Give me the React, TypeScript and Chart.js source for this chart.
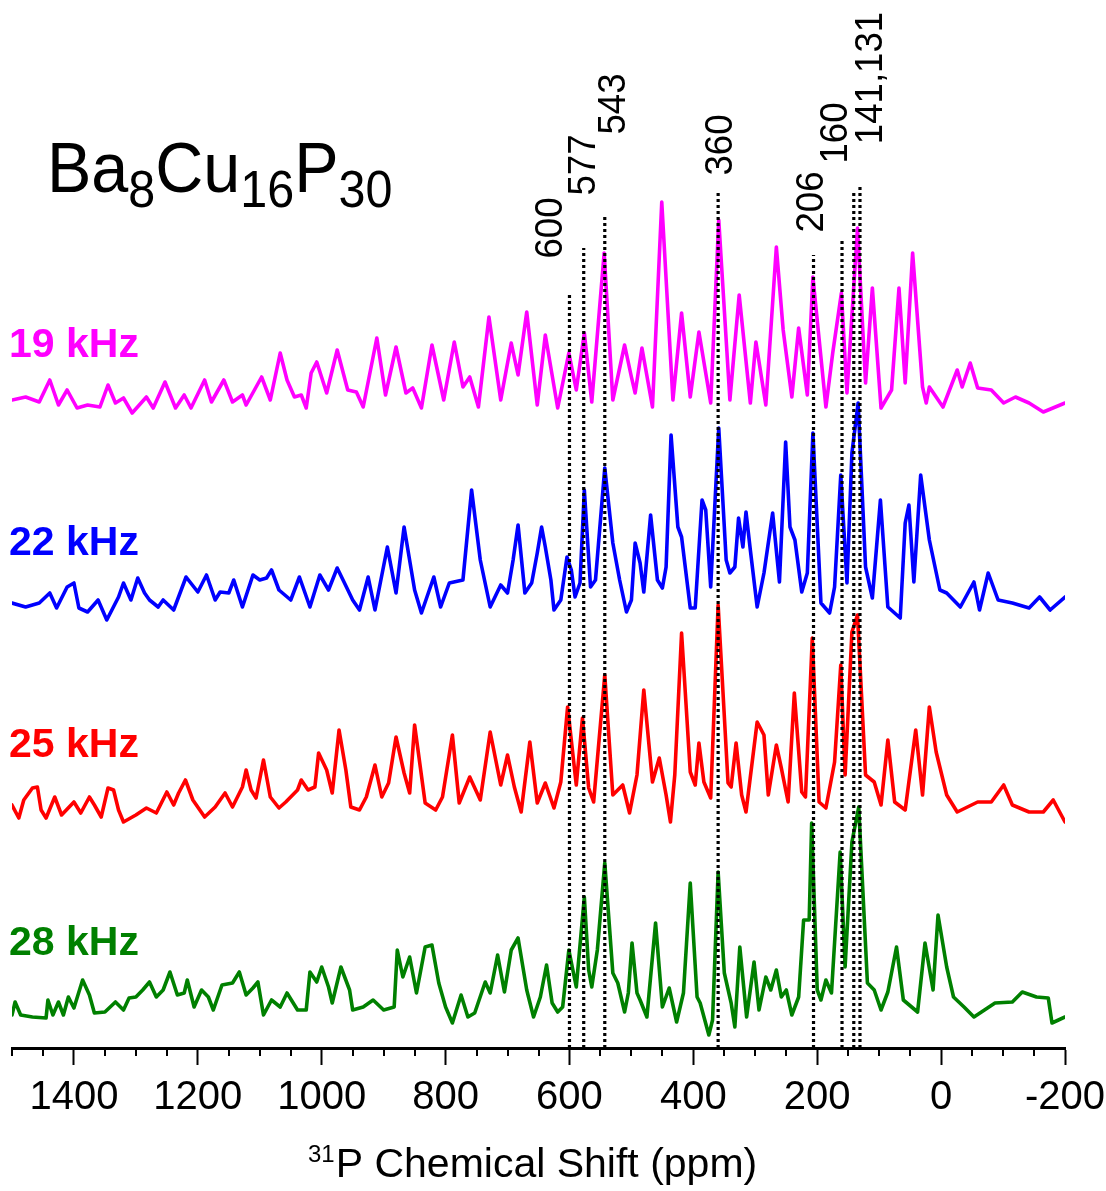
import React, { useEffect, useRef } from 'react';
import { Chart, registerables } from 'chart.js';

Chart.register(...registerables);

const FONT = '"Liberation Sans", Arial, Helvetica, sans-serif';

// ---- axis ----
const X_MIN = -200;
const X_MAX = 1500;
const X_TICKS = [1400, 1200, 1000, 800, 600, 400, 200, 0, -200];
const X_MINOR_TICKS = [1500, 1450, 1350, 1300, 1250, 1150, 1100, 1050, 950, 900, 850, 750, 700, 650, 550, 500, 450, 350, 300, 250, 150, 100, 50, -50, -100, -150];
const Y_MAX = 1048;

// ---- series ----
const SERIES_LABELS = ['19 kHz', '22 kHz', '25 kHz', '28 kHz'];
const SERIES_COLORS = ['#FF00FF', '#0000FF', '#FF0000', '#008000'];
const SERIES_OFFSETS = [643, 443, 238, 33];

const SPEC_19_PPM = [1500, 1478, 1456, 1439, 1425, 1411, 1395, 1378, 1358, 1345, 1333, 1320, 1306, 1283, 1272, 1253, 1236, 1222, 1211, 1189, 1178, 1158, 1144, 1128, 1122, 1097, 1083, 1067, 1056, 1044, 1033, 1025, 1017, 1008, 992, 975, 958, 944, 933, 911, 897, 880, 864, 853, 839, 822, 803, 786, 772, 761, 747, 730, 711, 694, 683, 669, 652, 639, 619, 601, 589, 576, 564, 544, 530, 511, 500, 494, 483, 466, 451, 433, 419, 405, 391, 372, 359, 341, 326, 308, 299, 283, 266, 255, 241, 230, 216, 207, 186, 175, 161, 152, 135, 122, 111, 97, 80, 68, 58, 46, 30, 24, 19, -3, -26, -34, -47, -59, -81, -101, -120, -142, -165, -200];
const SPEC_19_INT = [5, 8, 3, 25, 0, 15, -3, 0, -2, 20, 2, 7, -8, 8, -3, 23, -3, 10, -3, 25, 3, 25, 3, 10, 0, 28, 5, 52, 25, 8, 10, -3, 32, 43, 12, 55, 15, 13, -2, 67, 10, 58, 12, 17, -3, 60, 5, 63, 18, 28, -2, 88, 5, 62, 30, 93, 0, 70, -3, 52, 15, 72, 3, 152, 5, 60, 28, 12, 57, -2, 203, 5, 92, 8, 73, 2, 185, 5, 110, 2, 63, 0, 158, 75, 8, 77, 10, 128, -2, 52, 112, 12, 177, 22, 117, -3, 15, 117, 22, 152, 18, 2, 18, -2, 35, 18, 42, 17, 15, 2, 8, 2, -7, 2];

const SPEC_22_PPM = [1500, 1478, 1456, 1439, 1428, 1411, 1400, 1392, 1378, 1361, 1347, 1328, 1320, 1308, 1297, 1286, 1278, 1264, 1256, 1239, 1219, 1200, 1186, 1172, 1164, 1150, 1142, 1128, 1111, 1100, 1089, 1081, 1069, 1050, 1036, 1019, 1003, 989, 975, 964, 950, 939, 925, 914, 894, 880, 867, 850, 839, 819, 808, 794, 772, 758, 744, 728, 711, 700, 691, 683, 672, 661, 652, 645, 639, 630, 625, 614, 604, 597, 591, 583, 576, 566, 558, 543, 530, 519, 508, 500, 494, 486, 480, 469, 458, 450, 444, 436, 425, 419, 405, 397, 386, 380, 372, 359, 347, 341, 333, 327, 320, 315, 308, 297, 286, 272, 261, 251, 244, 236, 225, 216, 207, 194, 180, 172, 162, 152, 144, 134, 122, 111, 98, 86, 66, 58, 52, 44, 33, 19, 2, -9, -31, -53, -62, -76, -92, -115, -142, -159, -176, -200];
const SPEC_22_INT = [2, -2, 2, 12, -3, 18, 22, -3, -7, 5, -15, 8, 22, 5, 27, 12, 5, -2, 5, -5, 28, 13, 30, 5, 13, 12, 25, -2, 30, 25, 27, 35, 15, 5, 28, -2, 30, 15, 37, 23, 5, -5, 28, -5, 58, 12, 78, 15, -8, 28, -2, 22, 25, 115, 45, -2, 20, 12, 45, 80, 12, 22, 52, 78, 58, 25, -5, 5, 48, 35, 8, 22, 115, 18, 25, 137, 62, 25, -7, 5, 62, 42, 13, 90, 25, 17, 38, 170, 78, 68, -3, -3, 105, 95, 18, 177, 45, 32, 38, 87, 58, 93, 55, -2, 32, 92, 23, 163, 78, 65, 13, 32, 172, 2, -8, 18, 130, 22, 152, 202, 38, 7, 105, -2, -13, 82, 100, 23, 130, 65, 15, 12, -2, 23, -5, 32, 5, 2, -3, 8, -5, 8];

const SPEC_25_PPM = [1500, 1489, 1481, 1467, 1459, 1453, 1445, 1431, 1420, 1400, 1389, 1375, 1367, 1356, 1345, 1336, 1328, 1320, 1300, 1283, 1267, 1250, 1239, 1231, 1220, 1208, 1189, 1172, 1156, 1144, 1128, 1122, 1114, 1106, 1094, 1083, 1069, 1058, 1039, 1033, 1022, 1011, 1005, 992, 983, 972, 961, 953, 939, 928, 914, 903, 892, 880, 867, 858, 850, 833, 816, 805, 789, 778, 761, 744, 728, 711, 700, 689, 678, 664, 652, 639, 625, 614, 603, 589, 579, 569, 561, 543, 530, 514, 503, 491, 480, 466, 455, 444, 437, 430, 419, 405, 397, 391, 383, 372, 360, 344, 339, 331, 322, 315, 297, 286, 279, 266, 258, 247, 237, 225, 219, 208, 197, 186, 172, 162, 155, 144, 135, 122, 108, 97, 86, 75, 58, 41, 30, 19, 8, -9, -26, -59, -81, -101, -115, -142, -165, -181, -200];
const SPEC_25_INT = [5, -8, 10, 22, 23, 0, -8, 13, -5, 8, -3, 13, 5, -7, 22, 20, 0, -12, -5, 2, -3, 18, 5, 17, 30, 10, -7, 3, 17, 3, 23, 40, 20, 12, 50, 13, 2, 8, 20, 30, 20, 23, 57, 40, 17, 80, 40, 3, 0, 13, 45, 13, 27, 73, 37, 17, 85, 7, 0, 13, 75, 7, 33, 10, 78, 25, 55, 23, -2, 68, 7, 27, 2, 28, 103, 25, 92, 22, 8, 135, 15, 25, -3, 35, 120, 28, 52, 15, -12, 35, 177, 38, 25, 67, 28, 12, 205, 27, 23, 67, 15, -2, 88, 75, 15, 65, 42, 8, 117, 18, 13, 172, 8, 2, 48, 145, 35, 178, 195, 35, 28, 5, 70, 8, 0, 80, 15, 103, 58, 15, -2, 8, 8, 25, 5, -2, -2, 10, -12];

const SPEC_28_PPM = [1500, 1495, 1486, 1467, 1445, 1442, 1434, 1425, 1417, 1409, 1400, 1386, 1375, 1367, 1350, 1333, 1320, 1311, 1300, 1289, 1278, 1267, 1256, 1245, 1233, 1222, 1217, 1206, 1194, 1183, 1175, 1161, 1144, 1133, 1122, 1111, 1103, 1094, 1081, 1067, 1056, 1039, 1025, 1019, 1008, 1000, 989, 983, 969, 955, 950, 933, 917, 900, 883, 878, 869, 858, 847, 833, 822, 811, 800, 789, 775, 764, 753, 736, 728, 716, 705, 694, 683, 669, 658, 647, 637, 628, 619, 611, 601, 589, 576, 569, 564, 555, 543, 530, 522, 511, 505, 499, 491, 486, 475, 461, 450, 439, 427, 416, 405, 394, 389, 375, 369, 360, 350, 339, 333, 325, 314, 302, 294, 283, 275, 266, 258, 250, 241, 230, 222, 213, 209, 200, 194, 186, 177, 163, 155, 144, 133, 119, 108, 97, 86, 72, 61, 38, 26, 13, 5, -9, -20, -37, -53, -87, -115, -131, -154, -173, -179, -200];
const SPEC_28_INT = [0, 13, 0, -2, -3, 15, 0, 13, 0, 18, 7, 35, 20, 2, 3, 13, 5, 17, 18, 25, 33, 18, 25, 43, 20, 22, 35, 8, 25, 18, 5, 30, 32, 43, 20, 27, 33, 0, 15, 8, 22, 5, 5, 43, 33, 48, 28, 12, 48, 25, 5, 8, 15, 5, 8, 65, 38, 58, 22, 68, 70, 32, 8, -8, 20, -2, 2, 33, 22, 60, 23, 65, 77, 25, -2, 18, 50, 12, 3, 8, 65, 28, 118, 45, 28, 65, 152, 42, 32, 3, 22, 72, 22, 15, -2, 92, 8, 27, -7, 22, 132, 18, 12, -20, -5, 143, 42, 12, -12, 68, -2, 53, 5, 38, 25, 45, 18, 25, 0, 18, 95, 95, 192, 25, 15, 35, 22, 163, 48, 173, 208, 32, 25, 5, 23, 68, 15, 3, 72, 25, 100, 48, 18, 8, -2, 12, 13, 23, 18, 17, -8, -2];

const SERIES_PPM = [SPEC_19_PPM, SPEC_22_PPM, SPEC_25_PPM, SPEC_28_PPM];
const SERIES_INT = [SPEC_19_INT, SPEC_22_INT, SPEC_25_INT, SPEC_28_INT];

// ---- marked peaks (dotted guide lines) ----
const PEAK_PPM = [600, 577, 543, 360, 206, 160, 141, 131];
const PEAK_LINE_TOP = [753, 800, 831, 856, 793, 808, 858, 861];
const PEAK_LABELS = ['600', '577', '543', '360', '206', '160', '141,131'];
const PEAK_LABEL_PPM = [600, 577, 543, 360, 206, 160, 136];

// ---- text ----
const TITLE_RUNS = [
  { text: 'Ba', sub: false },
  { text: '8', sub: true },
  { text: 'Cu', sub: false },
  { text: '16', sub: true },
  { text: 'P', sub: false },
  { text: '30', sub: true },
];
const X_TITLE_SUP = '31';
const X_TITLE = 'P Chemical Shift (ppm)';

// layout (pixels)
const SERIES_LABEL_Y = [357, 555, 757, 955];
const PEAK_LABEL_DX = [-21, -3, 6, 0, -4, -9, 11];
const PEAK_LABEL_CY = [228, 165, 104, 145, 202, 133, 78];

const annotationPlugin = {
  id: 'annotations',
  afterDraw(chart: any) {
    const ctx: CanvasRenderingContext2D = chart.ctx;
    const xs = chart.scales.x;
    ctx.save();
    // minor ticks
    ctx.strokeStyle = '#000';
    ctx.lineWidth = 2;
    X_MINOR_TICKS.forEach((v) => {
      const x = Math.round(xs.getPixelForValue(v));
      ctx.beginPath();
      ctx.moveTo(x, xs.top);
      ctx.lineTo(x, xs.top + 8);
      ctx.stroke();
    });

    ctx.fillStyle = '#000';
    // title
    ctx.save();
    ctx.translate(47, 192);
    ctx.scale(0.95, 1);
    let cx = 0;
    TITLE_RUNS.forEach((r) => {
      ctx.font = `${r.sub ? 51 : 70}px ${FONT}`;
      ctx.textBaseline = 'alphabetic';
      ctx.textAlign = 'left';
      ctx.fillText(r.text, cx, r.sub ? 15 : 0);
      cx += ctx.measureText(r.text).width;
    });
    ctx.restore();

    // series labels
    SERIES_LABELS.forEach((lab, i) => {
      ctx.font = `bold 41px ${FONT}`;
      ctx.fillStyle = SERIES_COLORS[i];
      ctx.textAlign = 'left';
      ctx.textBaseline = 'alphabetic';
      ctx.fillText(lab, 9, SERIES_LABEL_Y[i]);
    });

    // peak labels (rotated)
    ctx.fillStyle = '#000';
    const fs = 39;
    PEAK_LABELS.forEach((lab, i) => {
      const x = xs.getPixelForValue(PEAK_LABEL_PPM[i]) + PEAK_LABEL_DX[i];
      ctx.save();
      ctx.translate(x, PEAK_LABEL_CY[i]);
      ctx.rotate(-Math.PI / 2);
      ctx.scale(0.94, 1);
      ctx.font = `${fs}px ${FONT}`;
      ctx.textAlign = 'center';
      ctx.textBaseline = 'alphabetic';
      ctx.fillText(lab, 0, fs * 0.358);
      ctx.restore();
    });

    // x axis title
    ctx.textAlign = 'left';
    ctx.textBaseline = 'alphabetic';
    ctx.font = `24px ${FONT}`;
    ctx.fillText(X_TITLE_SUP, 308, 1162);
    const w = ctx.measureText(X_TITLE_SUP).width;
    ctx.font = `41px ${FONT}`;
    ctx.fillText(X_TITLE, 308 + w + 1, 1177);
    ctx.restore();
  },
};

export default function App() {
  const ref = useRef<HTMLCanvasElement | null>(null);
  useEffect(() => {
    if (!ref.current) return;
    const guideSets = PEAK_PPM.map((p, i) => ({
      type: 'line' as const,
      data: [
        { x: p, y: 0 },
        { x: p, y: PEAK_LINE_TOP[i] },
      ],
      borderColor: '#000',
      borderWidth: 3.2,
      borderDash: [3, 3],
      pointRadius: 0,
      order: 0,
    }));
    const specSets = SERIES_PPM.map((ppm, i) => ({
      type: 'line' as const,
      label: SERIES_LABELS[i],
      data: ppm.map((p, j) => ({ x: p, y: SERIES_OFFSETS[i] + SERIES_INT[i][j] })),
      borderColor: SERIES_COLORS[i],
      borderWidth: 3.6,
      borderJoinStyle: 'round' as const,
      borderCapStyle: 'round' as const,
      pointRadius: 0,
      tension: 0,
      order: 1,
    }));
    const chart = new Chart(ref.current, {
      type: 'line',
      data: { datasets: [...guideSets, ...specSets] as any },
      options: {
        animation: false,
        responsive: false,
        devicePixelRatio: 1,
        layout: { padding: { left: 12, right: 41, top: 0, bottom: 0 } },
        plugins: { legend: { display: false }, tooltip: { enabled: false } },
        scales: {
          x: {
            type: 'linear',
            min: X_MIN,
            max: X_MAX,
            reverse: true,
            position: 'bottom',
            afterBuildTicks: (s: any) => {
              s.ticks = X_TICKS.map((v) => ({ value: v }));
            },
            afterFit: (s: any) => {
              s.height = 1191 - Y_MAX;
              s.paddingLeft = 0;
              s.paddingRight = 0;
            },
            grid: {
              display: true,
              drawOnChartArea: false,
              drawTicks: true,
              tickLength: 17,
              tickWidth: 2,
              tickColor: '#000',
            },
            border: { display: true, color: '#000', width: 3 },
            ticks: {
              color: '#000',
              autoSkip: false,
              maxRotation: 0,
              padding: 9,
              font: { family: FONT, size: 40 },
              callback: (v: any) => String(v),
            },
          },
          y: { type: 'linear', min: 0, max: Y_MAX, display: false },
        },
      },
      plugins: [annotationPlugin],
    });
    return () => chart.destroy();
  }, []);
  return (
    <div style={{ position: 'fixed', left: 0, top: 0, width: 1106, height: 1191, background: '#fff' }}>
      <canvas ref={ref} width={1106} height={1191} style={{ display: 'block' }} />
    </div>
  );
}
